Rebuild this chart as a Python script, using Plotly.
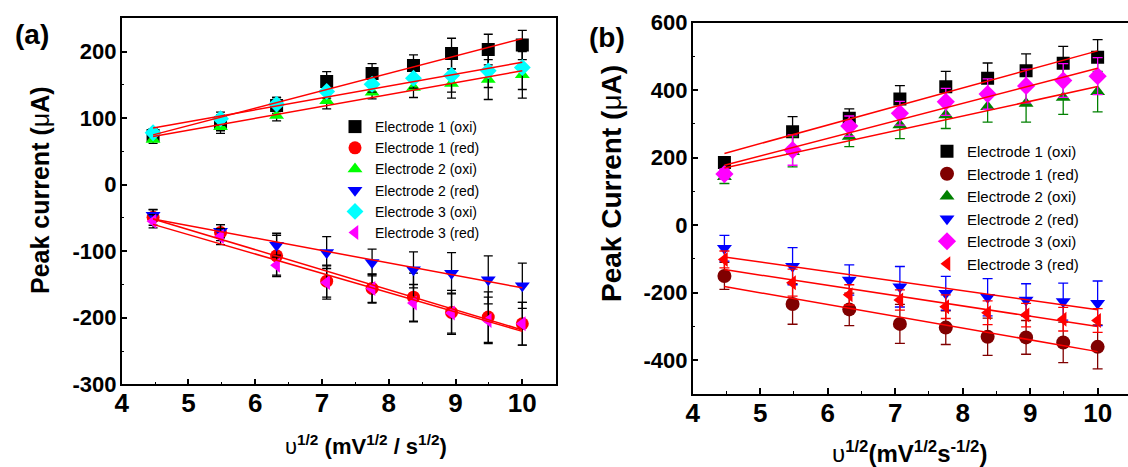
import numpy as np
import plotly.graph_objects as go

# ---------------- data ----------------
x_vals = [4.47, 5.48, 6.32, 7.07, 7.75, 8.37, 8.94, 9.49, 10.0]
x_ticks = [4, 5, 6, 7, 8, 9, 10]
x_tick_text = ["4", "5", "6", "7", "8", "9", "10"]
ya_ticks = [-300, -200, -100, 0, 100, 200]
ya_tick_text = ["-300", "-200", "-100", "0", "100", "200"]
yb_ticks = [-400, -200, 0, 200, 400, 600]
yb_tick_text = ["-400", "-200", "0", "200", "400", "600"]

series_names = ["Electrode 1 (oxi)", "Electrode 1 (red)", "Electrode 2 (oxi)",
                "Electrode 2 (red)", "Electrode 3 (oxi)", "Electrode 3 (red)"]

# panel (a)
a_e1_oxi = [74, 93, 119, 155, 167, 179, 197, 203, 210]
a_e1_red = [-49, -72, -107, -145, -156, -169, -192, -199, -209]
a_e2_oxi = [68, 87, 104, 126, 139, 146, 152, 158, 165]
a_e2_red = [-46, -70, -91, -102, -117, -128, -133, -143, -152]
a_e3_oxi = [78, 99, 121, 140, 151, 160, 164, 171, 176]
a_e3_red = [-55, -78, -121, -147, -156, -178, -193, -204, -209]

a_e1_oxi_err = [8, 12, 12, 15, 15, 16, 23, 23, 22]
a_e1_red_err = [12, 12, 31, 24, 21, 36, 33, 38, 32]
a_e2_oxi_err = [6, 10, 8, 12, 10, 15, 22, 30, 35]
a_e2_red_err = [8, 10, 18, 24, 20, 27, 31, 36, 34]
a_e3_oxi_err = [6, 10, 10, 10, 12, 15, 25, 25, 33]
a_e3_red_err = [10, 12, 15, 25, 22, 28, 30, 35, 32]

# panel (b)
b_e1_oxi = [185, 276, 316, 373, 410, 435, 457, 479, 497]
b_e1_red = [-151, -234, -250, -293, -304, -331, -333, -348, -361]
b_e2_oxi = [143, 217, 262, 296, 326, 350, 360, 378, 395]
b_e2_red = [-69, -122, -163, -183, -202, -214, -222, -227, -232]
b_e3_oxi = [151, 222, 293, 331, 365, 388, 412, 428, 441]
b_e3_red = [-102, -171, -207, -222, -242, -260, -267, -279, -283]

b_e1_oxi_err = [15, 45, 28, 40, 45, 45, 50, 50, 52]
b_e1_red_err = [40, 60, 48, 58, 50, 55, 50, 60, 65]
b_e2_oxi_err = [20, 45, 30, 40, 40, 45, 55, 50, 60]
b_e2_red_err = [38, 55, 45, 60, 50, 55, 48, 55, 66]
b_e3_oxi_err = [15, 45, 30, 35, 40, 45, 50, 50, 55]
b_e3_red_err = [25, 40, 30, 30, 35, 35, 35, 35, 35]

symbols = ["square", "circle", "triangle-up", "triangle-down", "diamond", "triangle-left"]
colors_a = ["#000000", "#FF0000", "#00FF00", "#0000FF", "#00FFFF", "#FF00FF"]
colors_b = ["#000000", "#800000", "#008000", "#0000FF", "#FF00FF", "#FF0000"]

panel_a = [a_e1_oxi, a_e1_red, a_e2_oxi, a_e2_red, a_e3_oxi, a_e3_red]
panel_a_err = [a_e1_oxi_err, a_e1_red_err, a_e2_oxi_err, a_e2_red_err, a_e3_oxi_err, a_e3_red_err]
panel_b = [b_e1_oxi, b_e1_red, b_e2_oxi, b_e2_red, b_e3_oxi, b_e3_red]
panel_b_err = [b_e1_oxi_err, b_e1_red_err, b_e2_oxi_err, b_e2_red_err, b_e3_oxi_err, b_e3_red_err]

FONT = "Arial, Liberation Sans, sans-serif"
fig = go.Figure()

sizes_a = [13, 13, 13, 13, 13, 13]
sizes_b = [13, 14, 13, 13, 14, 13]

# panel (a) markers
for name, ys, errs, sym, col, sz in zip(series_names, panel_a, panel_a_err, symbols, colors_a, sizes_a):
    fig.add_trace(go.Scatter(
        x=x_vals, y=ys, mode="markers", name=name, legend="legend",
        marker=dict(symbol=sym, color=col, size=sz, line=dict(width=0)),
        error_y=dict(type="data", array=errs, visible=True, color="#000000",
                     thickness=1.3, width=4.5),
        xaxis="x", yaxis="y"))

# panel (b) markers
for name, ys, errs, sym, col, sz in zip(series_names, panel_b, panel_b_err, symbols, colors_b, sizes_b):
    fig.add_trace(go.Scatter(
        x=x_vals, y=ys, mode="markers", name=name, legend="legend2",
        marker=dict(symbol=sym, color=col, size=sz, line=dict(width=0)),
        error_y=dict(type="data", array=errs, visible=True, color=col,
                     thickness=1.3, width=5),
        xaxis="x2", yaxis="y2"))

# linear fits
xs = np.array(x_vals)
xfit = np.array([xs.min(), xs.max()])
for ys in panel_a:
    k, b = np.polyfit(xs, np.array(ys, dtype=float), 1)
    fig.add_trace(go.Scatter(x=xfit, y=k * xfit + b, mode="lines", showlegend=False,
                             line=dict(color="#FF0000", width=1.5), xaxis="x", yaxis="y"))
for ys in panel_b:
    k, b = np.polyfit(xs, np.array(ys, dtype=float), 1)
    fig.add_trace(go.Scatter(x=xfit, y=k * xfit + b, mode="lines", showlegend=False,
                             line=dict(color="#FF0000", width=1.5), xaxis="x2", yaxis="y2"))

W, H = 1128, 467

def px_x(p):
    return p / W

def px_y(p):
    return 1 - p / H

axis_common = dict(showline=True, linecolor="#000000", linewidth=1.5, ticks="inside",
                   ticklen=6, tickwidth=1.5, tickcolor="#000000", showgrid=False,
                   zeroline=False, automargin=False, tickmode="array")

xtickfont = dict(family=FONT, size=26, color="#000000", weight="bold")
ytickfont = dict(family=FONT, size=22, color="#000000", weight="bold")

fig.update_layout(
    width=W, height=H,
    margin=dict(l=0, r=0, t=0, b=0, autoexpand=False),
    paper_bgcolor="white", plot_bgcolor="white",
    showlegend=True,
    xaxis=dict(domain=[px_x(121.7), px_x(555.7)], range=[4, 10.5], anchor="y",
               tickvals=x_ticks, ticktext=x_tick_text, mirror=True, tickfont=xtickfont,
               minor=dict(ticks="inside", ticklen=3, tickwidth=1.2, dtick=0.5, tick0=4,
                          tickcolor="#000000"),
               ticklabelstandoff=-5, **axis_common),
    yaxis=dict(domain=[px_y(384.3), px_y(18.3)], range=[-300, 250], anchor="x",
               tickvals=ya_ticks, ticktext=ya_tick_text, mirror=True, tickfont=ytickfont,
               minor=dict(ticks="inside", ticklen=3, tickwidth=1.2, dtick=50, tick0=0,
                          tickcolor="#000000"),
               ticklabelstandoff=-1, **axis_common),
    xaxis2=dict(domain=[px_x(692.7), 1.0], range=[4, 10.45], anchor="y2",
                tickvals=x_ticks, ticktext=x_tick_text, mirror=True, tickfont=xtickfont,
                minor=dict(ticks="inside", ticklen=3, tickwidth=1.2, dtick=0.5, tick0=4,
                           tickcolor="#000000"),
                ticklabelstandoff=-5, **axis_common),
    yaxis2=dict(domain=[px_y(393.75), px_y(22.5)], range=[-500, 600], anchor="x2",
                tickvals=yb_ticks, ticktext=yb_tick_text, mirror=False, tickfont=ytickfont,
                minor=dict(ticks="inside", ticklen=3, tickwidth=1.2, dtick=100, tick0=0,
                           tickcolor="#000000"),
                ticklabelstandoff=-1, **axis_common),
    legend=dict(x=px_x(335), y=px_y(111), xanchor="left", yanchor="top",
                bgcolor="rgba(0,0,0,0)", font=dict(family=FONT, size=14, color="#000000"),
                tracegroupgap=0),
    legend2=dict(x=px_x(927), y=px_y(135), xanchor="left", yanchor="top",
                 bgcolor="rgba(0,0,0,0)", font=dict(family=FONT, size=15, color="#000000"),
                 tracegroupgap=0),
)

def label(text, x, y, size, angle=0):
    return dict(text=text, x=px_x(x), y=px_y(y), xref="paper", yref="paper",
                xanchor="center", yanchor="middle", showarrow=False, textangle=angle,
                font=dict(family=FONT, size=size, color="#000000"))

ann = [
    label("<b>(a)</b>", 31.5, 34, 28),
    label("<b>(b)</b>", 607, 38, 28),
    label("<b>Peak current (</b>μ<b>A)</b>", 40, 190, 25, -90),
    label("<b>Peak Current (</b>μ<b>A)</b>", 611, 184, 28, -90),
    label("υ<b><sup>1/2</sup> (mV<sup>1/2</sup> / s<sup>1/2</sup>)</b>", 365.5, 445, 22),
    label("υ<b><sup>1/2</sup>(mV<sup>1/2</sup>s<sup>-1/2</sup>)</b>", 909, 452, 24),
]
fig.update_layout(annotations=ann)

fig.write_html("out.html", config={"displayModeBar": False},
               post_script="document.body.style.margin='0px';")
